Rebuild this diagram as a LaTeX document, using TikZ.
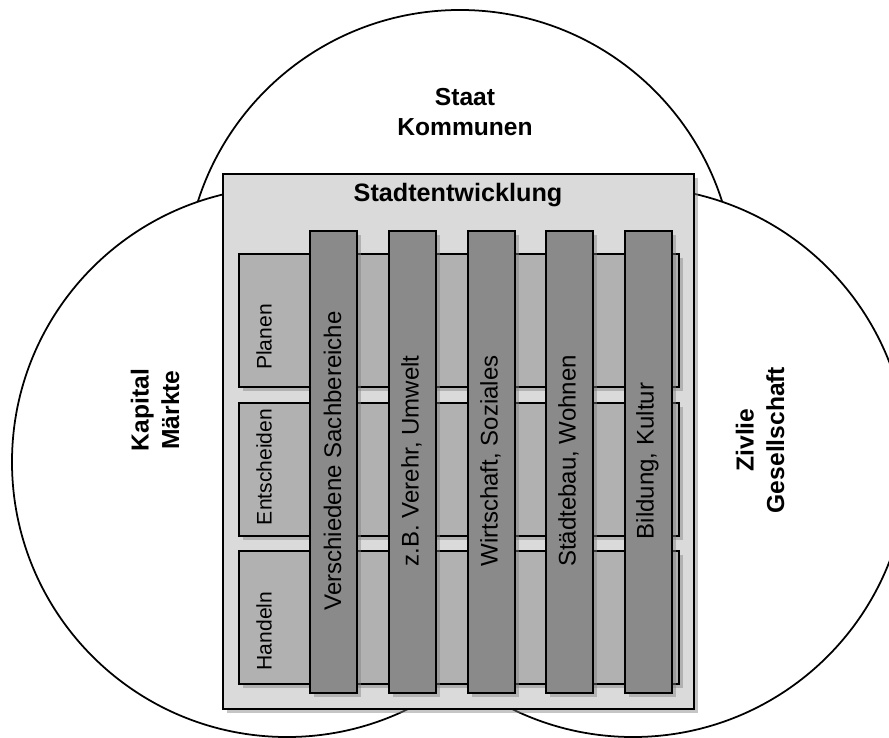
\documentclass[tikz,border=0pt]{standalone}
\usepackage{fontspec}
\setmainfont{Liberation Sans}
\usetikzlibrary{shadows}
\definecolor{panelgray}{HTML}{DADADA}
\definecolor{rowgray}{HTML}{B1B1B1}
\definecolor{colgray}{HTML}{8A8A8A}

\begin{document}
\begin{tikzpicture}[x=0.03cm, y=-0.03cm,
  ring/.style={draw=black, line width=1.5pt, fill=white},
  softshadow/.style={drop shadow={shadow xshift=1.2mm, shadow yshift=-1.2mm, opacity=.45}},
  panel/.style={draw=black, line width=2pt, fill=panelgray, softshadow,
    inner sep=0pt, anchor=north west, minimum width=141.3mm, minimum height=160.5mm},
  rowbox/.style={draw=black, line width=1.6pt, fill=rowgray, softshadow,
    inner sep=0pt, anchor=north west, minimum width=132mm, minimum height=39.9mm},
  colbox/.style={draw=black, line width=1.6pt, fill=colgray, softshadow,
    inner sep=0pt, anchor=north west, minimum width=14.1mm, minimum height=138.6mm},
  ringlabel/.style={font=\fontsize{21}{26}\selectfont\bfseries, align=center},
  titlelabel/.style={font=\fontsize{21.5}{25}\selectfont\bfseries},
  rowlabel/.style={font=\fontsize{18}{21}\selectfont, rotate=90},
  collabel/.style={font=\fontsize{20.5}{24}\selectfont, rotate=90}]
  \useasboundingbox (0,0) rectangle (889,738);

  % ── Three spheres ──
  \draw[ring] (460,285) circle[radius=8.25cm];
  \draw[ring] (287,462) circle[radius=8.25cm];
  \draw[ring] (633,462) circle[radius=8.25cm];
  \node[ringlabel] (staat) at (465,112) {Staat\\Kommunen};
  \node[ringlabel, rotate=90] (kapital) at (155,410) {Kapital\\Märkte};
  \node[ringlabel, rotate=90] (zivil) at (760,440) {Zivlie\\Gesellschaft};

  % ── Stadtentwicklung panel ──
  \node[panel] (panel) at (222,173) {};
  \node[titlelabel] (title) at (458,195) {Stadtentwicklung};

  % Process rows
  \foreach \name/\y/\ty/\txt in {planen/253/337/Planen, entscheiden/402/467/Entscheiden,
      handeln/550/631/Handeln} {
    \node[rowbox] (\name) at (238,\y) {};
    \node[rowlabel] (\name-txt) at (264,\ty) {\txt};
  }

  % Subject columns
  \foreach \name/\x/\txt in {sach/309/{Verschiedene Sachbereiche}, verkehr/388/{z.B. Verehr, Umwelt},
      wirtschaft/467/{Wirtschaft, Soziales}, bau/545/{Städtebau, Wohnen}, bildung/624/{Bildung, Kultur}} {
    \node[colbox] (\name) at (\x,230) {};
    \node[collabel] (\name-txt) at (\x+23.5,461) {\txt};
  }
\end{tikzpicture}
\end{document}
